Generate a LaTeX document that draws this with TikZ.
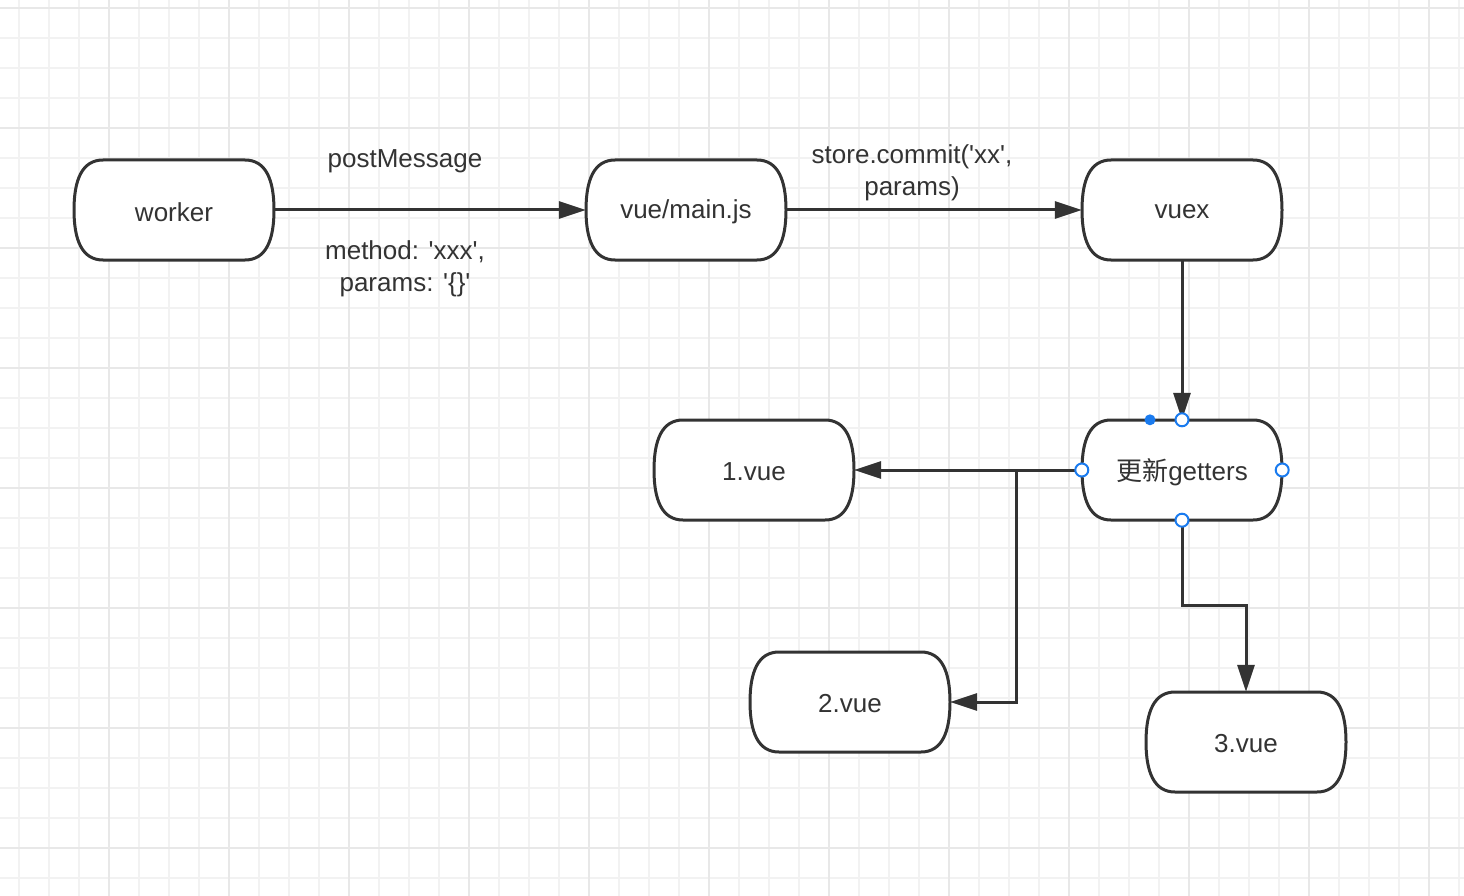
\documentclass[tikz,border=0pt]{standalone}
\usepackage{fontspec}
\setmainfont{Liberation Sans}
\newfontfamily\cjk{Noto Sans CJK SC}
\usetikzlibrary{arrows.meta,calc}
\definecolor{ink}{HTML}{333333}
\definecolor{gridminor}{HTML}{F2F2F2}
\definecolor{gridmajor}{HTML}{E8E8E8}
\definecolor{handle}{HTML}{1A7BEF}
\newcommand{\q}{\textquotesingle}
\tikzset{
  box/.style={draw=none,minimum width=200pt,minimum height=100pt,inner sep=0pt,
    text=ink,font=\fontsize{26}{32}\selectfont},
  boxline/.style={draw=ink,line width=3pt,fill=white},
  lbl/.style={text=ink,font=\fontsize{26}{32}\selectfont,align=center,inner sep=0pt},
  arr/.style={draw=ink,line width=3pt,-{Triangle[length=27pt,width=17pt]}},
  hnd/.style={draw=handle,fill=white,line width=2pt},
}
\begin{document}
\begin{tikzpicture}[x=1pt,y=-1pt]
\useasboundingbox (0,0) rectangle (1464,896);
\fill[white] (0,0) rectangle (1464,896);
% grid
\foreach \x in {19,49,...,1464} \draw[gridminor,line width=1.5pt] (\x,0) -- (\x,896);
\foreach \y in {8,38,...,896} \draw[gridminor,line width=1.5pt] (0,\y) -- (1464,\y);
\foreach \x in {109,229,...,1464} \draw[gridmajor,line width=1.5pt] (\x,0) -- (\x,896);
\foreach \y in {8,128,...,896} \draw[gridmajor,line width=1.5pt] (0,\y) -- (1464,\y);
% nodes
\node[box] (w) at (174,210) {};
\node[box] (m) at (686,210) {};
\node[box] (x) at (1182,210) {};
\node[box] (g) at (1182,470) {};
\node[box] (v1) at (754,470) {};
\node[box] (v2) at (850,702) {};
\node[box] (v3) at (1246,742) {};
\foreach \n in {w,m,x,g,v1,v2,v3}{
  \begin{scope}[shift={(\n.center)}]
  \path[boxline] (-71,-50) -- (71,-50) .. controls (92,-50) and (100,-30) .. (100,0)
    .. controls (100,30) and (92,50) .. (71,50) -- (-71,50)
    .. controls (-92,50) and (-100,30) .. (-100,0)
    .. controls (-100,-30) and (-92,-50) .. (-71,-50) -- cycle;
  \end{scope}
}
\node[box,yshift=-2pt] at (w) {worker};
\node[box,yshift=-2pt] at (m) {vue/main.js};
\node[box,yshift=-2pt] at (x) {vuex};
\node[box,yshift=-2pt] at (g) {{\cjk 更新}getters};
\node[box,yshift=-2pt] at (v1) {1.vue};
\node[box,yshift=-2pt] at (v2) {2.vue};
\node[box,yshift=-2pt] at (v3) {3.vue};
% labels
\node[lbl] (l1) at (405,161) {postMessage};
\node[lbl] (l2) at (405,269) {method: \q xxx\q,\\params: \q\{\}\q};
\node[lbl] (l3) at (912,173) {store.commit(\q xx\q,\\params)};
% connectors
\draw[arr] (w.east) -- (m.west);
\draw[arr] (m.east) -- (x.west);
\draw[arr] (x.south) -- (g.north);
\draw[arr] (g.west) -- (v1.east);
\coordinate (j) at (1016,470);
\draw[arr] (j) |- (v2.east);
\coordinate (k) at (1246,605);
\draw[arr] (g.south) |- (k) -- (v3.north);
% selection handles
\fill[handle] ($(g.north)+(-32,0)$) circle (5.5);
\foreach \a in {north,south,east,west} \draw[hnd] (g.\a) circle (6.5);
\end{tikzpicture}
\end{document}
